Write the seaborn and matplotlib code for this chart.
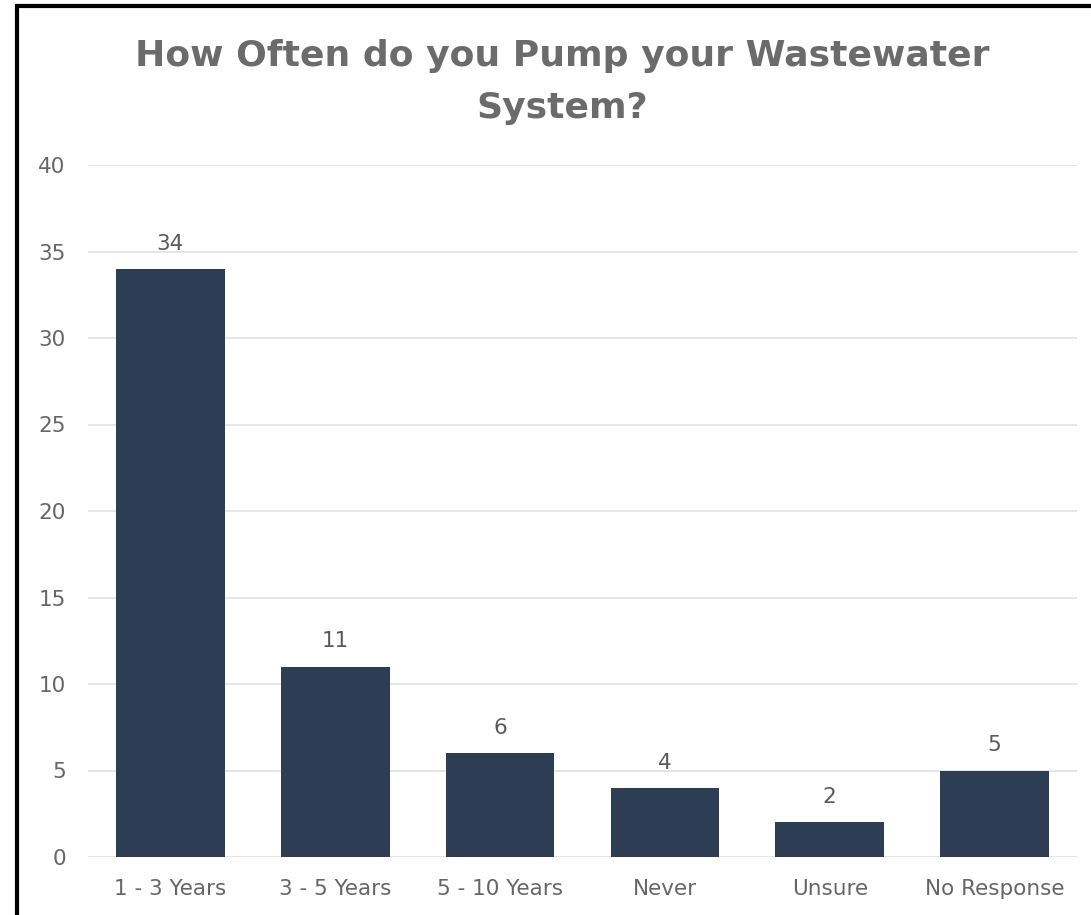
import matplotlib
matplotlib.use("Agg")
import matplotlib.pyplot as plt
import seaborn as sns
import pandas as pd
from matplotlib.patches import Rectangle

categories = ["1 - 3 Years", "3 - 5 Years", "5 - 10 Years", "Never", "Unsure", "No Response"]
counts = [34, 11, 6, 4, 2, 5]
yticks = [0, 5, 10, 15, 20, 25, 30, 35, 40]

sns.set_theme(style="white")
plt.rcParams['font.family'] = ['DejaVu Sans']

df = pd.DataFrame({"cat": categories, "n": counts})

fig = plt.figure(figsize=(10.91, 9.15), dpi=100)
ax = fig.add_axes([88/1091, 58/915, (1077-88)/1091, (857-165)/915])

bar_color = "#2c3d54"
sns.barplot(data=df, x="cat", y="n", color=bar_color, width=0.66, ax=ax,
            saturation=1, zorder=3, edgecolor=bar_color, linewidth=0)

ax.set_ylim(0, 40)
ax.set_xlim(-0.5, len(categories) - 0.5)
ax.set_yticks(yticks)
ax.set_yticklabels([str(v) for v in yticks])
ax.set_xlabel("")
ax.set_ylabel("")
for s in ax.spines.values():
    s.set_visible(False)
ax.grid(axis="y", color="#e3e3e3", linewidth=1.3, zorder=0)
ax.tick_params(axis="both", length=0, labelsize=15.5, colors="#666666")
ax.tick_params(axis="y", pad=16)
ax.tick_params(axis="x", pad=16)

for c in ax.containers:
    ax.bar_label(c, fmt="%d", padding=11, fontsize=15.5, color="#595959")

fig.text(562/1091, 1 - 56/915, "How Often do you Pump your Wastewater",
         ha="center", va="center", fontsize=26, fontweight="bold", color="#6b6b6b")
fig.text(562/1091, 1 - 108/915, "System?",
         ha="center", va="center", fontsize=26, fontweight="bold", color="#6b6b6b")

fig.patches.append(Rectangle((16.5/1091, -0.1), 1.2, 1 - 5.5/915 + 0.1,
                             transform=fig.transFigure, fill=False,
                             edgecolor="black", linewidth=3, zorder=10))

fig.savefig("out.png", dpi=100, facecolor="white")
